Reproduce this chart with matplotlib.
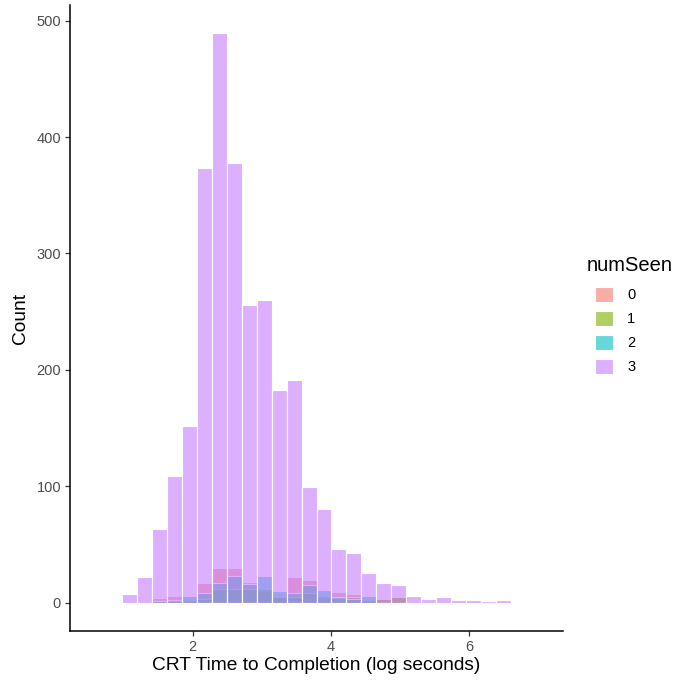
import numpy as np
import matplotlib.pyplot as plt
from matplotlib.colors import to_rgba
from matplotlib.patches import Patch

plt.rcParams['font.family'] = ['Liberation Sans', 'DejaVu Sans']

# histogram bins (30 bins, only the 26 that hold data are listed; bins 0-1 and 28-29 are empty)
bin_lo = 0.55
bin_width = 0.216
first_bin = 2

groups = ['0', '1', '2', '3']
counts_0 = [0, 0, 4, 6, 1, 17, 30, 30, 18, 10, 5, 22, 19, 4, 9, 7, 2, 3, 6, 0, 0, 0, 0, 0, 0, 0]
counts_1 = [0, 0, 1, 1, 2, 3, 12, 12, 12, 12, 5, 5, 8, 6, 4, 5, 2, 3, 5, 0, 0, 0, 0, 0, 0, 0]
counts_2 = [0, 0, 1, 2, 6, 8, 17, 23, 16, 23, 10, 8, 15, 11, 5, 3, 6, 0, 0, 0, 0, 0, 0, 0, 0, 0]
counts_3 = [7, 22, 63, 109, 152, 373, 489, 378, 256, 260, 183, 191, 99, 80, 46, 43, 25, 17, 15, 6, 3, 5, 2, 2, 1, 2]
colors = ['#F8766D', '#7CAE00', '#00BFC4', '#C77CFF']
fill_alpha = 0.6

all_counts = [counts_0, counts_1, counts_2, counts_3]
n_bins = len(counts_3)
centers = bin_lo + bin_width * (np.arange(n_bins) + first_bin + 0.5)

fig = plt.figure(figsize=(6.8, 6.83), dpi=100)
ax = fig.add_axes([0.103, 0.0761, 0.725, 0.9166])

for cnt, col in zip(all_counts, colors):
    ax.bar(centers, cnt, width=bin_width, facecolor=to_rgba(col, fill_alpha),
           edgecolor='white', linewidth=0.8)

# ggplot-style 5% padding around the full bin range
hi = bin_lo + 30 * bin_width
pad = 0.05 * (hi - bin_lo)
ax.set_xlim(bin_lo - pad, hi + pad)
ymax = max(counts_3)
ax.set_ylim(-0.05 * ymax, 1.05 * ymax)

ax.set_xticks([2, 4, 6])
ax.set_yticks([0, 100, 200, 300, 400, 500])

for s in ['top', 'right']:
    ax.spines[s].set_visible(False)
for s in ['left', 'bottom']:
    ax.spines[s].set_linewidth(1.1)
    ax.spines[s].set_color('black')
ax.tick_params(length=3.5, width=0.9, color='#333333', labelcolor='#4D4D4D',
               labelsize=10.5, pad=3)

ax.set_xlabel('CRT Time to Completion (log seconds)', fontsize=13.8, labelpad=2)
ax.set_ylabel('Count', fontsize=13.8, labelpad=5)

# legend: title as its own text so the keys sit indented under it
fig.text(0.863, 0.612, 'numSeen', fontsize=14.5, va='center', ha='left')
handles = [Patch(facecolor=to_rgba(c, fill_alpha), edgecolor='white', linewidth=0.8)
           for c in colors]
leg = fig.legend(handles, groups, loc='center left',
                 bbox_to_anchor=(0.875, 0.516), frameon=False, fontsize=10.5,
                 handlelength=1.2, handleheight=1.2, borderpad=0, borderaxespad=0,
                 labelspacing=0.6, handletextpad=1.0)

fig.savefig('out.png', dpi=100)
